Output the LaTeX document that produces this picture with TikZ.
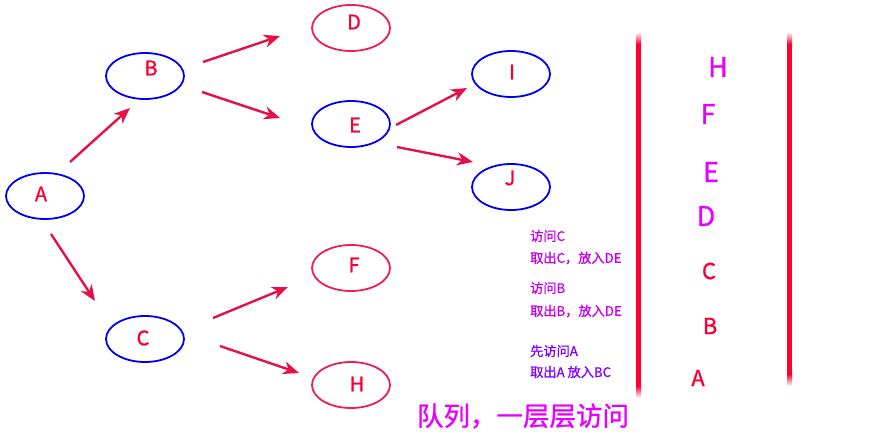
\documentclass[tikz,border=0pt]{standalone}
\usepackage{fontspec}
\setmainfont{Noto Sans CJK SC}[FakeBold=1.0]
\usetikzlibrary{shapes.geometric,arrows.meta}
\definecolor{nblue}{RGB}{0,0,240}
\definecolor{ncrim}{RGB}{235,30,90}
\definecolor{tred}{RGB}{250,0,50}
\definecolor{arr}{RGB}{230,16,72}
\definecolor{mag}{RGB}{230,0,255}
\definecolor{vio}{RGB}{200,0,240}
\definecolor{pur}{RGB}{130,0,255}
\definecolor{qred}{RGB}{255,0,48}
\tikzset{
  ell/.style={ellipse, minimum width=78pt, minimum height=46pt, inner sep=0pt, line width=1.8pt},
  blueell/.style={ell, draw=nblue},
  crimell/.style={ell, draw=ncrim},
  lbl/.style={text=tred, font=\fontsize{20}{20}\selectfont, inner sep=0pt},
  edge/.style={draw=arr, line width=2.4pt, -{Stealth[length=16pt,width=13pt,inset=5pt]}},
  qbig/.style={text=mag, font=\fontsize{27}{27}\selectfont, inner sep=0pt},
  qsmall/.style={text=tred, font=\fontsize{22}{22}\selectfont, inner sep=0pt},
  note/.style={text=vio, font=\fontsize{13.2}{13.2}\selectfont, inner sep=0pt, anchor=west},
  bar/.style={fill=qred}
}
\begin{document}
\begin{tikzpicture}[x=1pt,y=-1pt]
\useasboundingbox (0,0) rectangle (893,437);
% nodes
\node[blueell] (A) at (45,196) {};
\node[blueell] (B) at (145,76) {};
\node[blueell] (C) at (145,339) {};
\node[crimell] (D) at (351,28) {};
\node[blueell] (E) at (351,124) {};
\node[crimell] (F) at (351,268) {};
\node[crimell] (H) at (351,385) {};
\node[blueell] (I) at (511,74) {};
\node[blueell] (J) at (511,187) {};
\node[lbl] (lA) at (41,194) {A};
\node[lbl] (lB) at (151,68) {B};
\node[lbl] (lC) at (143,338) {C};
\node[lbl] (lD) at (354,22) {D};
\node[lbl] (lE) at (355,125) {E};
\node[lbl] (lF) at (354,265) {F};
\node[lbl] (lH) at (357,384) {H};
\node[lbl] (lI) at (512,72) {I};
\node[lbl] (lJ) at (510,178) {J};
% arrow endpoints
\coordinate (ab1) at (70,162); \coordinate (ab2) at (130,108);
\coordinate (ac1) at (51,234); \coordinate (ac2) at (95,301);
\coordinate (bd1) at (203,62); \coordinate (bd2) at (280,36);
\coordinate (be1) at (202,92); \coordinate (be2) at (280,118);
\coordinate (ei1) at (396,125); \coordinate (ei2) at (467,88);
\coordinate (ej1) at (397,147); \coordinate (ej2) at (473,162);
\coordinate (cf1) at (213,318); \coordinate (cf2) at (288,287);
\coordinate (ch1) at (220,346); \coordinate (ch2) at (299,373);
\draw[edge] (ab1) -- (ab2);
\draw[edge] (ac1) -- (ac2);
\draw[edge] (bd1) -- (bd2);
\draw[edge] (be1) -- (be2);
\draw[edge] (ei1) -- (ei2);
\draw[edge] (ej1) -- (ej2);
\draw[edge] (cf1) -- (cf2);
\draw[edge] (ch1) -- (ch2);
% queue bars
\fill[bar] (636,44) rectangle (641,386);
\shade[top color=white, bottom color=qred] (636,32) rectangle (641,44);
\shade[top color=qred, bottom color=white] (636,386) rectangle (641,398);
\fill[bar] (787,44) rectangle (792,374);
\shade[top color=white, bottom color=qred] (787,32) rectangle (792,44);
\shade[top color=qred, bottom color=white] (787,374) rectangle (792,386);
% queue contents
\node[qbig] (qH) at (718,67) {H};
\node[qbig] (qF) at (708,114) {F};
\node[qbig] (qE) at (711,172) {E};
\node[qbig] (qD) at (706,216) {D};
\node[qsmall] (qC) at (709,271) {C};
\node[qsmall] (qB) at (710,326) {B};
\node[qsmall] (qA) at (698,378) {A};
% notes
\node[note] (n1) at (530,236) {访问C};
\node[note] (n2) at (530,258) {取出C，放入DE};
\node[note] (n3) at (530,288) {访问B};
\node[note] (n4) at (530,311) {取出B，放入DE};
\node[note, text=pur] (n5) at (530,351) {先访问A};
\node[note, text=pur] (n6) at (530,372) {取出A\ 放入BC};
% title
\node[text=mag, font=\fontsize{26.5}{26.5}\selectfont, inner sep=0pt] (title) at (523,416) {队列，一层层访问};
\end{tikzpicture}
\end{document}
